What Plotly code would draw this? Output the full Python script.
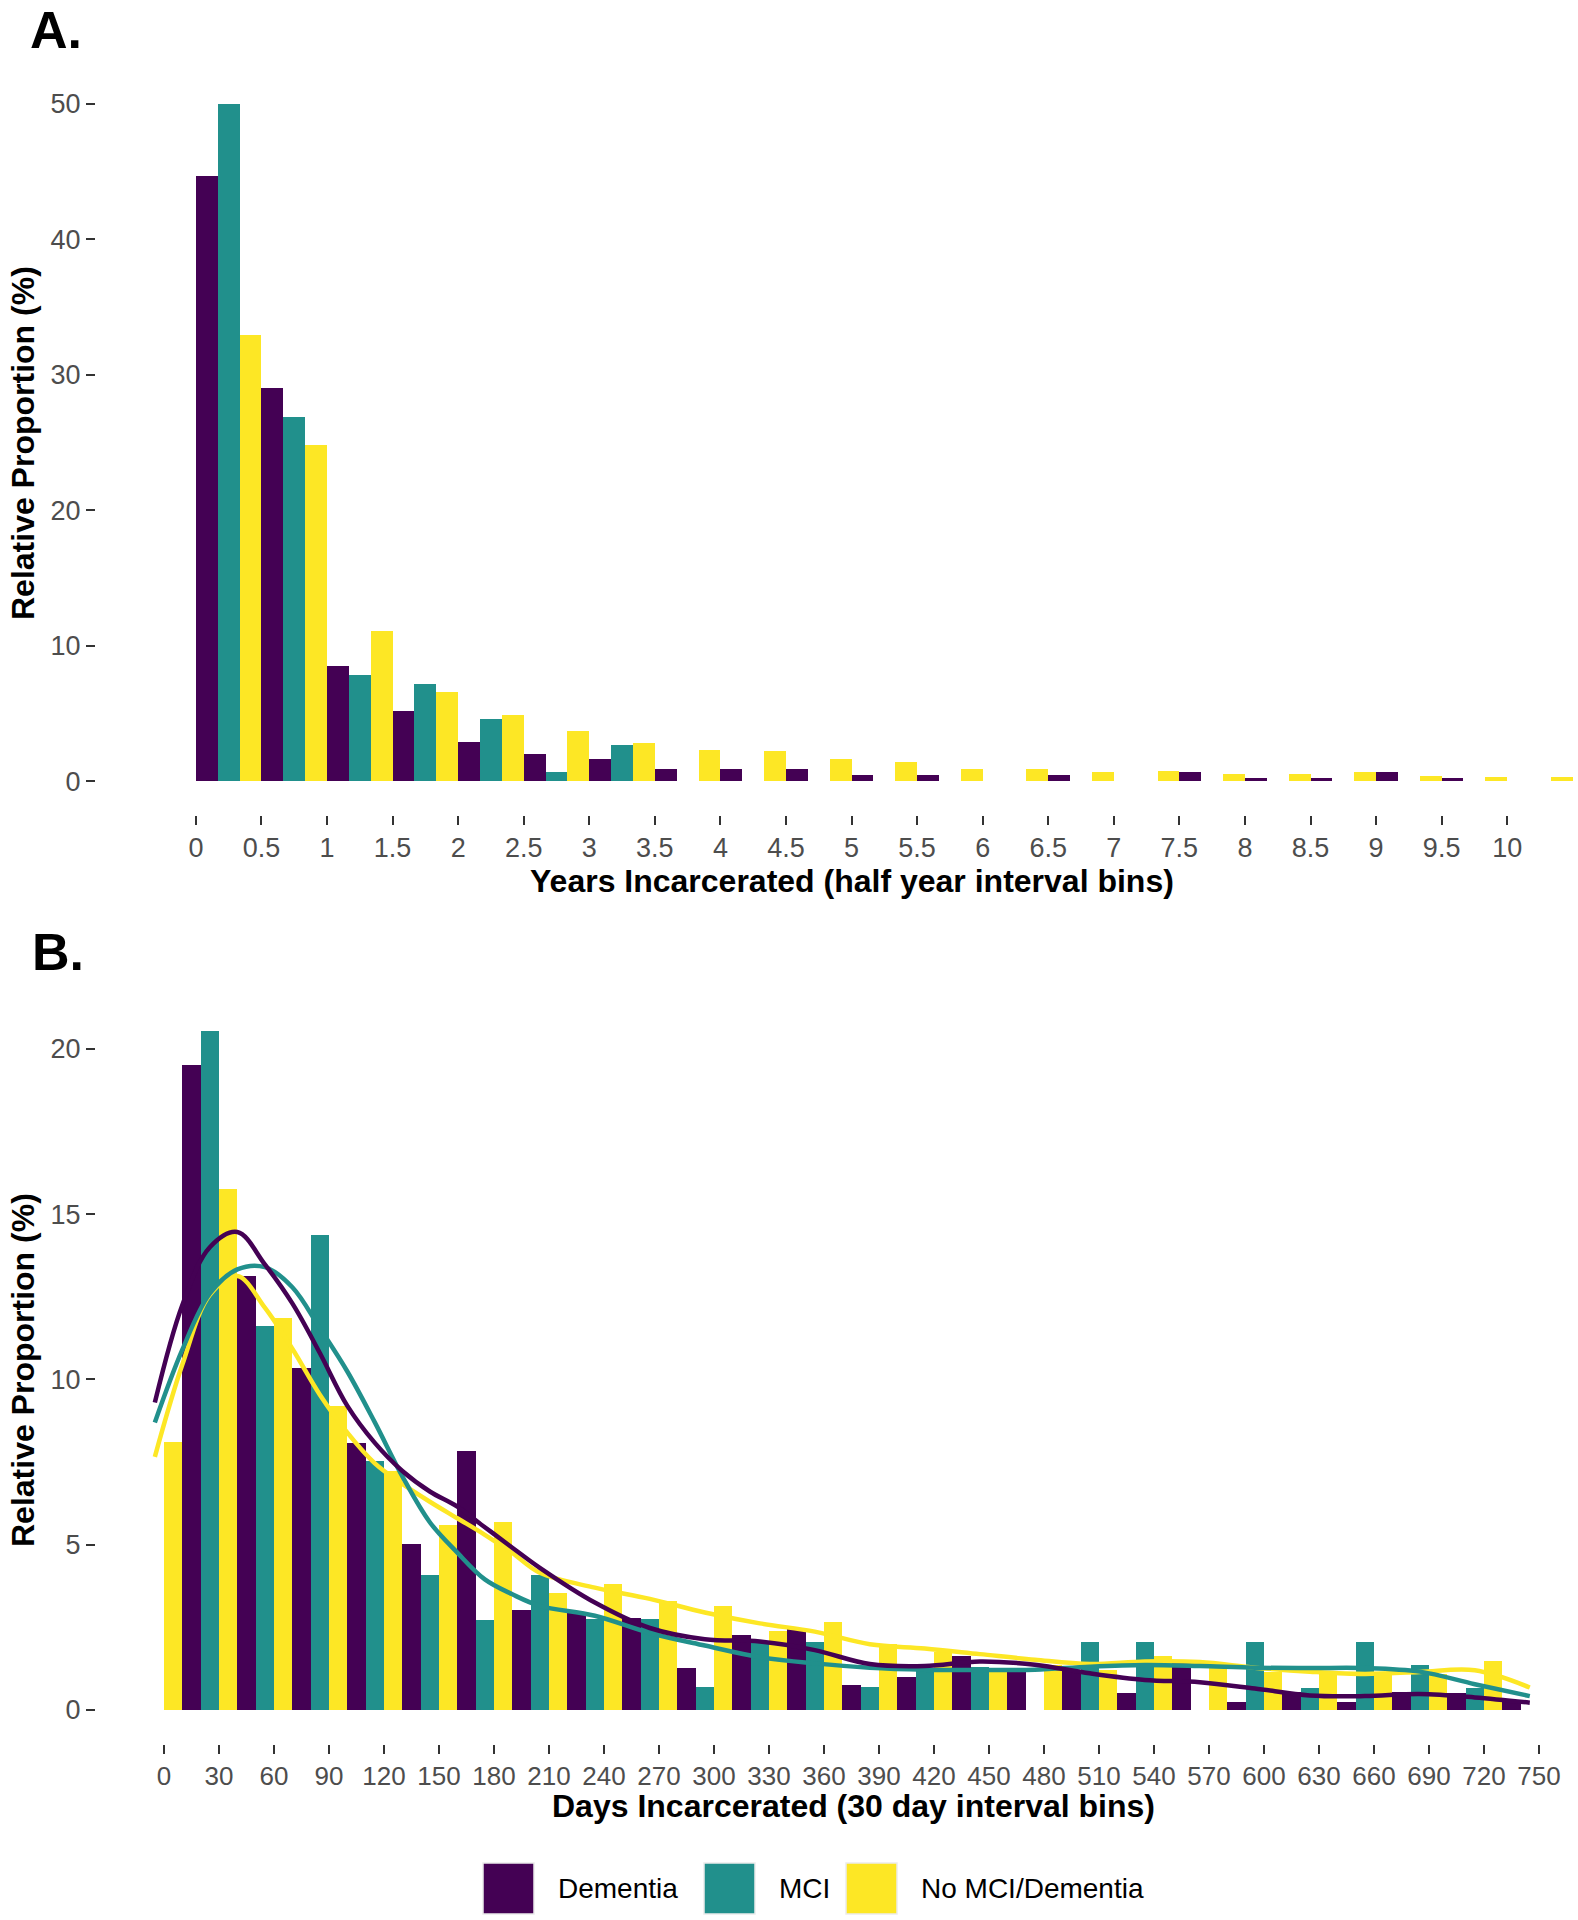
import plotly.graph_objects as go

W, H = 1578, 1920

# ---------------- data ----------------
groups = ["Dementia", "MCI", "No MCI/Dementia"]
colors = ["#440154", "#21908C", "#FDE725"]

# Panel A: half-year bins (bin start, years)
years_bin_start = [0, 0.5, 1, 1.5, 2, 2.5, 3, 3.5, 4, 4.5, 5, 5.5, 6, 6.5, 7, 7.5, 8, 8.5, 9, 9.5, 10]
years_bin_width = 0.5
years_dementia = [44.7, 29.0, 8.5, 5.2, 2.9, 2.0, 1.6, 0.92, 0.92, 0.92, 0.45, 0.45, 0.0, 0.45, 0.0, 0.67, 0.25, 0.25, 0.67, 0.25, 0.0]
years_mci = [50.0, 26.9, 7.8, 7.2, 4.6, 0.65, 2.67, 0, 0, 0, 0, 0, 0, 0, 0, 0, 0, 0, 0, 0, 0]
years_none = [32.9, 24.8, 11.1, 6.6, 4.9, 3.7, 2.84, 2.27, 2.2, 1.6, 1.45, 0.87, 0.92, 0.67, 0.72, 0.55, 0.5, 0.65, 0.35, 0.3, 0.32]
years_ticks = [0, 0.5, 1, 1.5, 2, 2.5, 3, 3.5, 4, 4.5, 5, 5.5, 6, 6.5, 7, 7.5, 8, 8.5, 9, 9.5, 10]
years_tick_labels = ["0", "0.5", "1", "1.5", "2", "2.5", "3", "3.5", "4", "4.5", "5", "5.5",
                     "6", "6.5", "7", "7.5", "8", "8.5", "9", "9.5", "10"]
years_y_ticks = [0, 10, 20, 30, 40, 50]

# Panel B: 30-day bins (bin centre, days)
days_bin_center = [-5, 25, 55, 85, 115, 145, 175, 205, 235, 265, 295, 325, 355,
                   385, 415, 445, 475, 505, 535, 565, 595, 625, 655, 685, 715, 745]
days_dementia = [0, 19.5, 13.14, 10.35, 8.08, 5.03, 7.83, 3.01, 2.94, 2.77, 1.27, 2.27, 2.44,
                 0.76, 1.01, 1.64, 1.26, 1.2, 0.50, 1.51, 0.25, 0.55, 0.25, 0.55, 0.5, 0.25]
days_mci = [0, 20.54, 11.61, 14.38, 7.52, 4.08, 2.72, 4.08, 2.74, 2.74, 0.69, 2.02, 2.05,
            0.69, 1.26, 1.3, 0, 2.05, 2.05, 0, 2.05, 0.68, 2.05, 1.36, 0.68, 0]
days_none = [8.11, 15.75, 11.86, 9.2, 7.23, 5.6, 5.7, 3.53, 3.8, 3.3, 3.15, 2.4, 2.67,
             2.0, 1.75, 1.2, 1.35, 1.2, 1.63, 1.27, 1.16, 1.16, 1.12, 1.1, 1.49, 0]
days_ticks = [0, 30, 60, 90, 120, 150, 180, 210, 240, 270, 300, 330, 360, 390, 420, 450,
              480, 510, 540, 570, 600, 630, 660, 690, 720, 750]
days_y_ticks = [0, 5, 10, 15, 20]

# Smoothed curves
smooth_days = [-5, 10, 25, 40, 55, 70, 85, 100, 115, 130, 145, 160, 175, 190, 205, 235, 265,
               295, 325, 355, 385, 415, 445, 475, 505, 535, 565, 595, 625, 655, 685, 715, 745]
smooth_dementia = [9.3, 12.25, 14.0, 14.46, 13.48, 12.3, 10.8, 9.2, 8.08, 7.23, 6.61, 6.15, 5.53,
                   4.91, 4.3, 3.25, 2.48, 2.14, 2.07, 1.81, 1.39, 1.33, 1.47, 1.37, 1.11, 0.91,
                   0.84, 0.65, 0.44, 0.42, 0.48, 0.38, 0.22]
smooth_mci = [8.7, 10.9, 12.6, 13.33, 13.4, 12.79, 11.55, 10.24, 8.7, 7.07, 5.68, 4.76, 3.95,
              3.5, 3.15, 2.85, 2.33, 1.95, 1.6, 1.41, 1.28, 1.22, 1.21, 1.22, 1.31, 1.36, 1.33,
              1.28, 1.27, 1.27, 1.16, 0.78, 0.42]
smooth_none = [7.66, 10.45, 12.56, 13.13, 12.17, 10.93, 9.54, 8.39, 7.46, 6.84, 6.30, 5.8, 5.3,
               4.75, 4.15, 3.7, 3.36, 2.95, 2.62, 2.37, 1.99, 1.86, 1.69, 1.52, 1.39, 1.47, 1.45,
               1.28, 1.16, 1.09, 1.15, 1.20, 0.68]

# ---------------- helpers ----------------
def fx(px):
    return px / W


def fy(py):
    return 1 - py / H


FONT = "Liberation Sans, Arial, Helvetica, sans-serif"
TICK_FONT = dict(family=FONT, size=27, color="#4D4D4D")
TICK_FONT_B = dict(family=FONT, size=26, color="#4D4D4D")

fig = go.Figure()

years_center = [s + years_bin_width / 2 for s in years_bin_start]
for name, color, vals in zip(groups, colors, [years_dementia, years_mci, years_none]):
    fig.add_trace(go.Bar(x=years_center, y=vals, name=name, marker=dict(color=color, line=dict(width=0)),
                         xaxis="x", yaxis="y", showlegend=False))

for name, color, vals in zip(groups, colors, [days_dementia, days_mci, days_none]):
    fig.add_trace(go.Bar(x=days_bin_center, y=vals, name=name, marker=dict(color=color, line=dict(width=0)),
                         xaxis="x2", yaxis="y2", showlegend=False))

smooth_sets = list(zip(groups, colors, [smooth_dementia, smooth_mci, smooth_none]))
for name, color, vals in reversed(smooth_sets):
    fig.add_trace(go.Scatter(x=smooth_days, y=vals, mode="lines", name=name,
                             line=dict(color=color, width=4.5, shape="spline", smoothing=1.0),
                             xaxis="x2", yaxis="y2", showlegend=False, hoverinfo="skip"))

axis_common = dict(showgrid=False, zeroline=False, showline=False, ticks="outside", ticklen=9,
                   tickwidth=2, tickcolor="#333333", automargin=False)

fig.update_layout(
    width=W, height=H, template="none",
    margin=dict(l=0, r=0, t=0, b=0, pad=0),
    paper_bgcolor="white", plot_bgcolor="white",
    font=dict(family=FONT),
    barmode="group", bargap=0, bargroupgap=0,
    showlegend=False,
    xaxis=dict(domain=[fx(96), 1.0], range=[-0.762, 10.54], tickvals=years_ticks,
               ticktext=years_tick_labels, anchor="y", tickfont=TICK_FONT, **axis_common),
    yaxis=dict(domain=[fy(815), fy(70)], range=[-2.5, 52.5], tickvals=years_y_ticks,
               anchor="x", tickfont=TICK_FONT, **axis_common),
    xaxis2=dict(domain=[fx(96), 1.0], range=[-37.1, 771.3], tickvals=days_ticks,
                ticktext=[str(t) for t in days_ticks], anchor="y2", tickfont=TICK_FONT_B, **axis_common),
    yaxis2=dict(domain=[fy(1744), fy(997)], range=[-1.029, 21.57], tickvals=days_y_ticks,
                anchor="x2", tickfont=TICK_FONT, **axis_common),
)

annotations = []
# panel letters
annotations.append(dict(text="<b>A.</b>", x=fx(29), y=1.0, xref="paper", yref="paper",
                        xanchor="left", yanchor="top", showarrow=False, borderpad=0,
                        font=dict(family=FONT, size=52, color="black")))
annotations.append(dict(text="<b>B.</b>", x=fx(31), y=fy(952), xref="paper", yref="paper",
                        xanchor="left", yanchor="middle", showarrow=False, borderpad=0,
                        font=dict(family=FONT, size=52, color="black")))
# axis titles
title_font = dict(family=FONT, size=32, color="black")
annotations.append(dict(text="<b>Years Incarcerated (half year interval bins)</b>", x=fx(852), y=fy(881),
                        xref="paper", yref="paper", xanchor="center", yanchor="middle",
                        showarrow=False, font=title_font))
annotations.append(dict(text="<b>Days Incarcerated (30 day interval bins)</b>", x=fx(853), y=fy(1806),
                        xref="paper", yref="paper", xanchor="center", yanchor="middle",
                        showarrow=False, font=title_font))
annotations.append(dict(text="<b>Relative Proportion (%)</b>", x=fx(23), y=fy(443),
                        xref="paper", yref="paper", xanchor="center", yanchor="middle",
                        textangle=-90, showarrow=False, font=title_font))
annotations.append(dict(text="<b>Relative Proportion (%)</b>", x=fx(23), y=fy(1370),
                        xref="paper", yref="paper", xanchor="center", yanchor="middle",
                        textangle=-90, showarrow=False, font=title_font))

# custom legend (large square keys)
legend_keys_x = [483, 704, 846]
legend_text_x = [556, 777, 919]
key_size = 51
key_top = 1863
shapes = []
for name, color, kx, tx in zip(groups, colors, legend_keys_x, legend_text_x):
    shapes.append(dict(type="rect", xref="paper", yref="paper",
                       x0=fx(kx), x1=fx(kx + key_size), y0=fy(key_top + key_size), y1=fy(key_top),
                       fillcolor=color, line=dict(color="#EBEBEB", width=1.5)))
    annotations.append(dict(text=name, x=fx(tx), y=fy(key_top + key_size / 2), xref="paper", yref="paper",
                            xanchor="left", yanchor="middle", showarrow=False,
                            font=dict(family=FONT, size=28, color="black")))

fig.update_layout(annotations=annotations, shapes=shapes)

fig.write_html("out.html", config={"displayModeBar": False},
               post_script="document.body.style.margin='0px';document.body.style.overflow='hidden';")
